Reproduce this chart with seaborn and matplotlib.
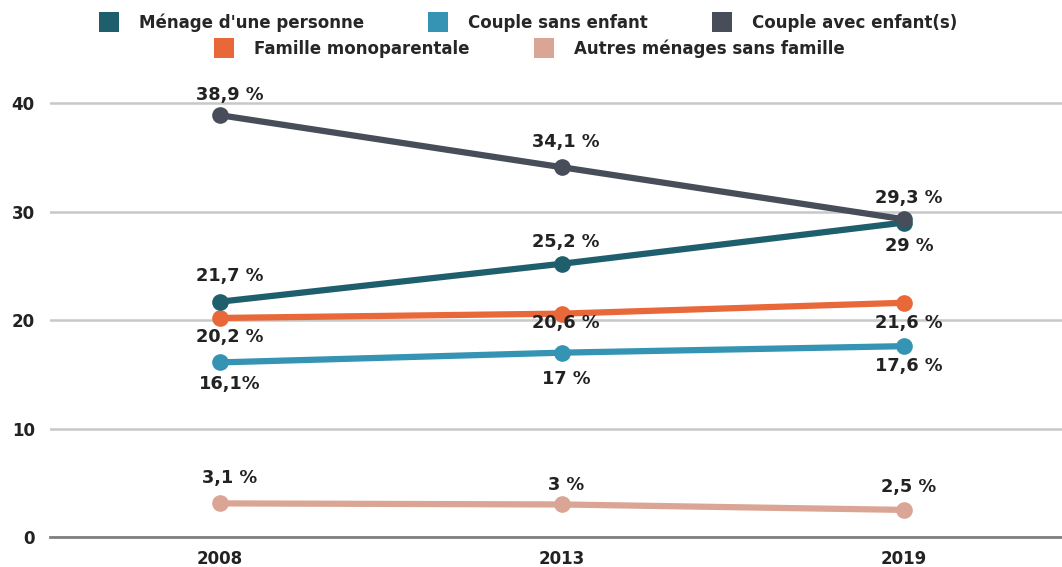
import matplotlib
matplotlib.use("Agg")
import matplotlib.pyplot as plt
from matplotlib.lines import Line2D
import seaborn as sns
import pandas as pd

# données
annees = ["2008", "2013", "2019"]
series = ["Ménage d'une personne", "Couple sans enfant", "Couple avec enfant(s)",
          "Famille monoparentale", "Autres ménages sans famille"]
menage_seul = [21.7, 25.2, 29.0]
couple_sans = [16.1, 17.0, 17.6]
couple_avec = [38.9, 34.1, 29.3]
monoparentale = [20.2, 20.6, 21.6]
autres = [3.1, 3.0, 2.5]
etiquettes = [
    ["21,7 %", "25,2 %", "29 %"],
    ["16,1%", "17 %", "17,6 %"],
    ["38,9 %", "34,1 %", "29,3 %"],
    ["20,2 %", "20,6 %", "21,6 %"],
    ["3,1 %", "3 %", "2,5 %"],
]
valeurs = [menage_seul, couple_sans, couple_avec, monoparentale, autres]

# style
couleurs = ["#1f5f6d", "#3594b3", "#474e59", "#e8683a", "#dba595"]
decalages = [  # décalage vertical des étiquettes, en pixels
    [26, 22, -23],
    [-22, -26, -20],
    [20, 25, 21],
    [-19, -9, -20],
    [25, 19, 23],
]
dx = [10, 4, 5]  # léger décalage horizontal par année
ordre = [4, 1, 3, 0, 2]

sns.set_theme(style="white")
plt.rcParams["font.family"] = ["DejaVu Sans"]
plt.rcParams["font.weight"] = "bold"

fig = plt.figure(figsize=(10.62, 5.67), dpi=100)
ax = fig.add_axes([50 / 1062, 30 / 567, 1 - 50 / 1062, (537 - 87) / 567])

for i in ordre:
    df = pd.DataFrame({"annee": annees, "val": valeurs[i]})
    sns.lineplot(data=df, x="annee", y="val", ax=ax, color=couleurs[i], lw=4.5,
                 marker="o", markersize=12, markeredgewidth=0, zorder=3 + ordre.index(i))
    for j, (a, v) in enumerate(zip(annees, valeurs[i])):
        ax.annotate(etiquettes[i][j], (j, v), xytext=(dx[j], decalages[i][j]),
                    textcoords="offset pixels", ha="center", va="center",
                    fontsize=12.8, fontweight="bold", color="#222222", zorder=10)

ax.set_xlim(-0.497, 2.462)
ax.set_ylim(0, 41.5)
ax.set_yticks([0, 10, 20, 30, 40])
ax.set_xlabel("")
ax.set_ylabel("")
ax.grid(axis="y", color="#c8c8c8", lw=1.8)
ax.grid(axis="x", visible=False)
for s in ["top", "right", "left"]:
    ax.spines[s].set_visible(False)
ax.spines["bottom"].set_color("#808080")
ax.spines["bottom"].set_linewidth(2)
ax.spines["bottom"].set_zorder(2)
ax.tick_params(axis="both", length=0, labelsize=12, labelcolor="#222222")
ax.tick_params(axis="y", pad=11)
ax.tick_params(axis="x", pad=9)
for t in ax.get_xticklabels() + ax.get_yticklabels():
    t.set_fontweight("bold")

poignees = [Line2D([], [], ls="none", marker="s", markersize=14.5, color=c, markeredgewidth=0)
            for c in couleurs]
kw = dict(frameon=False, prop={"size": 12, "weight": "bold"}, handletextpad=1.3,
          columnspacing=3.95, handlelength=1.0, borderaxespad=0)
leg1 = fig.legend(poignees[:3], series[:3], ncol=3, loc="center",
                  bbox_to_anchor=(0.498, 1 - 23 / 567), **kw)
fig.legend(poignees[3:], series[3:], ncol=2, loc="center",
           bbox_to_anchor=(0.499, 1 - 49 / 567), **kw)

fig.savefig("out.png", dpi=100)
